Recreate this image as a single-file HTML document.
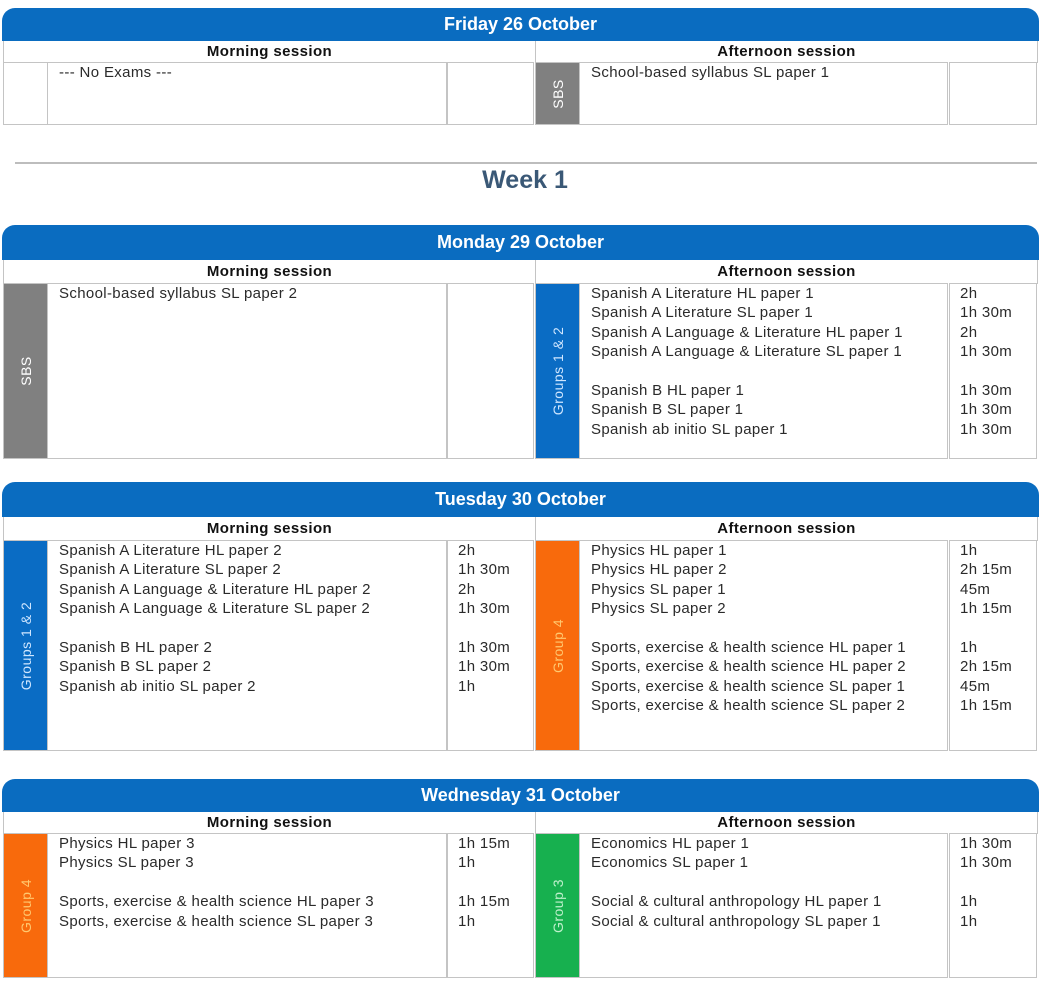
<!DOCTYPE html>
<html><head><meta charset="utf-8">
<style>
html,body{margin:0;padding:0;background:#fff;}
body{width:1044px;height:986px;position:relative;overflow:hidden;font-family:"Liberation Sans",sans-serif;}
.abs{position:absolute;box-sizing:border-box;}
.hdr{background:#0a6cc0;border-radius:13px 13px 0 0;color:#fff;font-weight:bold;font-size:18px;text-align:center;}
.sess{font-weight:bold;font-size:15px;color:#111;text-align:center;letter-spacing:0.4px;}
.cell{border:1.5px solid #c4c4c4;}
.lbl{color:#fff;font-size:14px;letter-spacing:0.5px;}
.lbl span{position:absolute;left:50%;top:50%;transform:translate(-50%,-50%) rotate(-90deg);white-space:nowrap;}
.line{font-size:15px;color:#2a2a2a;white-space:nowrap;letter-spacing:0.35px;line-height:19.4px;}
</style></head>
<body>
<div class="abs" style="left:15px;top:162px;width:1022px;height:2px;background:#bdbdbd;"></div>
<div class="abs" style="left:425px;top:166px;width:200px;text-align:center;font-size:25px;font-weight:bold;color:#3a5876;">Week 1</div>
<script>
const blocks=[
 {y:[8,41,62,125],title:"Friday 26 October",
  L:{label:"",color:"#fff",tc:"#fff",items:[["--- No Exams ---",""]]},
  R:{label:"SBS",color:"#808080",tc:"#fff",items:[["School-based syllabus SL paper 1",""]]}},
 {y:[225,260,283,459],title:"Monday 29 October",
  L:{label:"SBS",color:"#808080",tc:"#fff",items:[["School-based syllabus SL paper 2",""]]},
  R:{label:"Groups 1 & 2",color:"#0a6cc4",tc:"#cfe6ff",items:[["Spanish A Literature HL paper 1","2h"],["Spanish A Literature SL paper 1","1h 30m"],["Spanish A Language & Literature HL paper 1","2h"],["Spanish A Language & Literature SL paper 1","1h 30m"],null,["Spanish B HL paper 1","1h 30m"],["Spanish B SL paper 1","1h 30m"],["Spanish ab initio SL paper 1","1h 30m"]]}},
 {y:[482,517,540,751],title:"Tuesday 30 October",
  L:{label:"Groups 1 & 2",color:"#0a6cc4",tc:"#cfe6ff",items:[["Spanish A Literature HL paper 2","2h"],["Spanish A Literature SL paper 2","1h 30m"],["Spanish A Language & Literature HL paper 2","2h"],["Spanish A Language & Literature SL paper 2","1h 30m"],null,["Spanish B HL paper 2","1h 30m"],["Spanish B SL paper 2","1h 30m"],["Spanish ab initio SL paper 2","1h"]]},
  R:{label:"Group 4",color:"#f86a0c",tc:"#ffc870",items:[["Physics HL paper 1","1h"],["Physics HL paper 2","2h 15m"],["Physics SL paper 1","45m"],["Physics SL paper 2","1h 15m"],null,["Sports, exercise & health science HL paper 1","1h"],["Sports, exercise & health science HL paper 2","2h 15m"],["Sports, exercise & health science SL paper 1","45m"],["Sports, exercise & health science SL paper 2","1h 15m"]]}},
 {y:[779,812,833,978],title:"Wednesday 31 October",
  L:{label:"Group 4",color:"#f86a0c",tc:"#ffc870",items:[["Physics HL paper 3","1h 15m"],["Physics SL paper 3","1h"],null,["Sports, exercise & health science HL paper 3","1h 15m"],["Sports, exercise & health science SL paper 3","1h"]]},
  R:{label:"Group 3",color:"#17b04f",tc:"#bff0cc",items:[["Economics HL paper 1","1h 30m"],["Economics SL paper 1","1h 30m"],null,["Social & cultural anthropology HL paper 1","1h"],["Social & cultural anthropology SL paper 1","1h"]]}}
];
function mk(cls,name,l,t,w,h,style){
  const d=document.createElement('div');
  d.className='abs '+cls;
  
  
  d.style.left=l+'px';d.style.top=t+'px';d.style.width=w+'px';d.style.height=h+'px';
  if(style)d.style.cssText+=style;
  document.body.appendChild(d);return d;
}
blocks.forEach(b=>{
  const [y0,y1,y2,y3]=b.y;
  const h=mk('hdr','day-header',2,y0,1037,y1-y0,'line-height:'+(y1-y0)+'px;');
  h.textContent=b.title;
  [[b.L,3,'morning'],[b.R,535,'afternoon']].forEach(([s,x,nm])=>{
    const sh=mk('sess',nm+'-session-header',x,y1,(x==3?532:503),y2-y1+1,'line-height:'+(y2-y1)+'px;border-left:'+(x==3?'1.5px solid #c4c4c4':'1.5px solid #c4c4c4')+';'+(x==535?'border-right:1.5px solid #c4c4c4;':''));
    sh.textContent=nm=='morning'?'Morning session':'Afternoon session';
    const lb=mk('lbl cell','group-label',x,y2,45,y3-y2,'background:'+s.color+';color:'+s.tc+';');
    if(s.label){const sp=document.createElement('span');sp.textContent=s.label;lb.appendChild(sp);}
    const tx=mk('cell','exam-list',x+44,y2,400-(x==535?31:0),y3-y2);
    const tw=x==3?448:950;
    mk('cell','duration-list',tw-1,y2,(x==3?87:88),y3-y2);
    let ty=y2+(y3-y2<80?1:1);
    s.items.forEach(it=>{
      if(it){
        const a=mk('line','exam-name',x+56,ty,380,20);a.textContent=it[0];
        if(it[1]){const t=mk('line','exam-duration',tw+10,ty,80,20);t.textContent=it[1];}
      }
      ty+=19.4;
    });
  });
});
</script>
</body></html>
